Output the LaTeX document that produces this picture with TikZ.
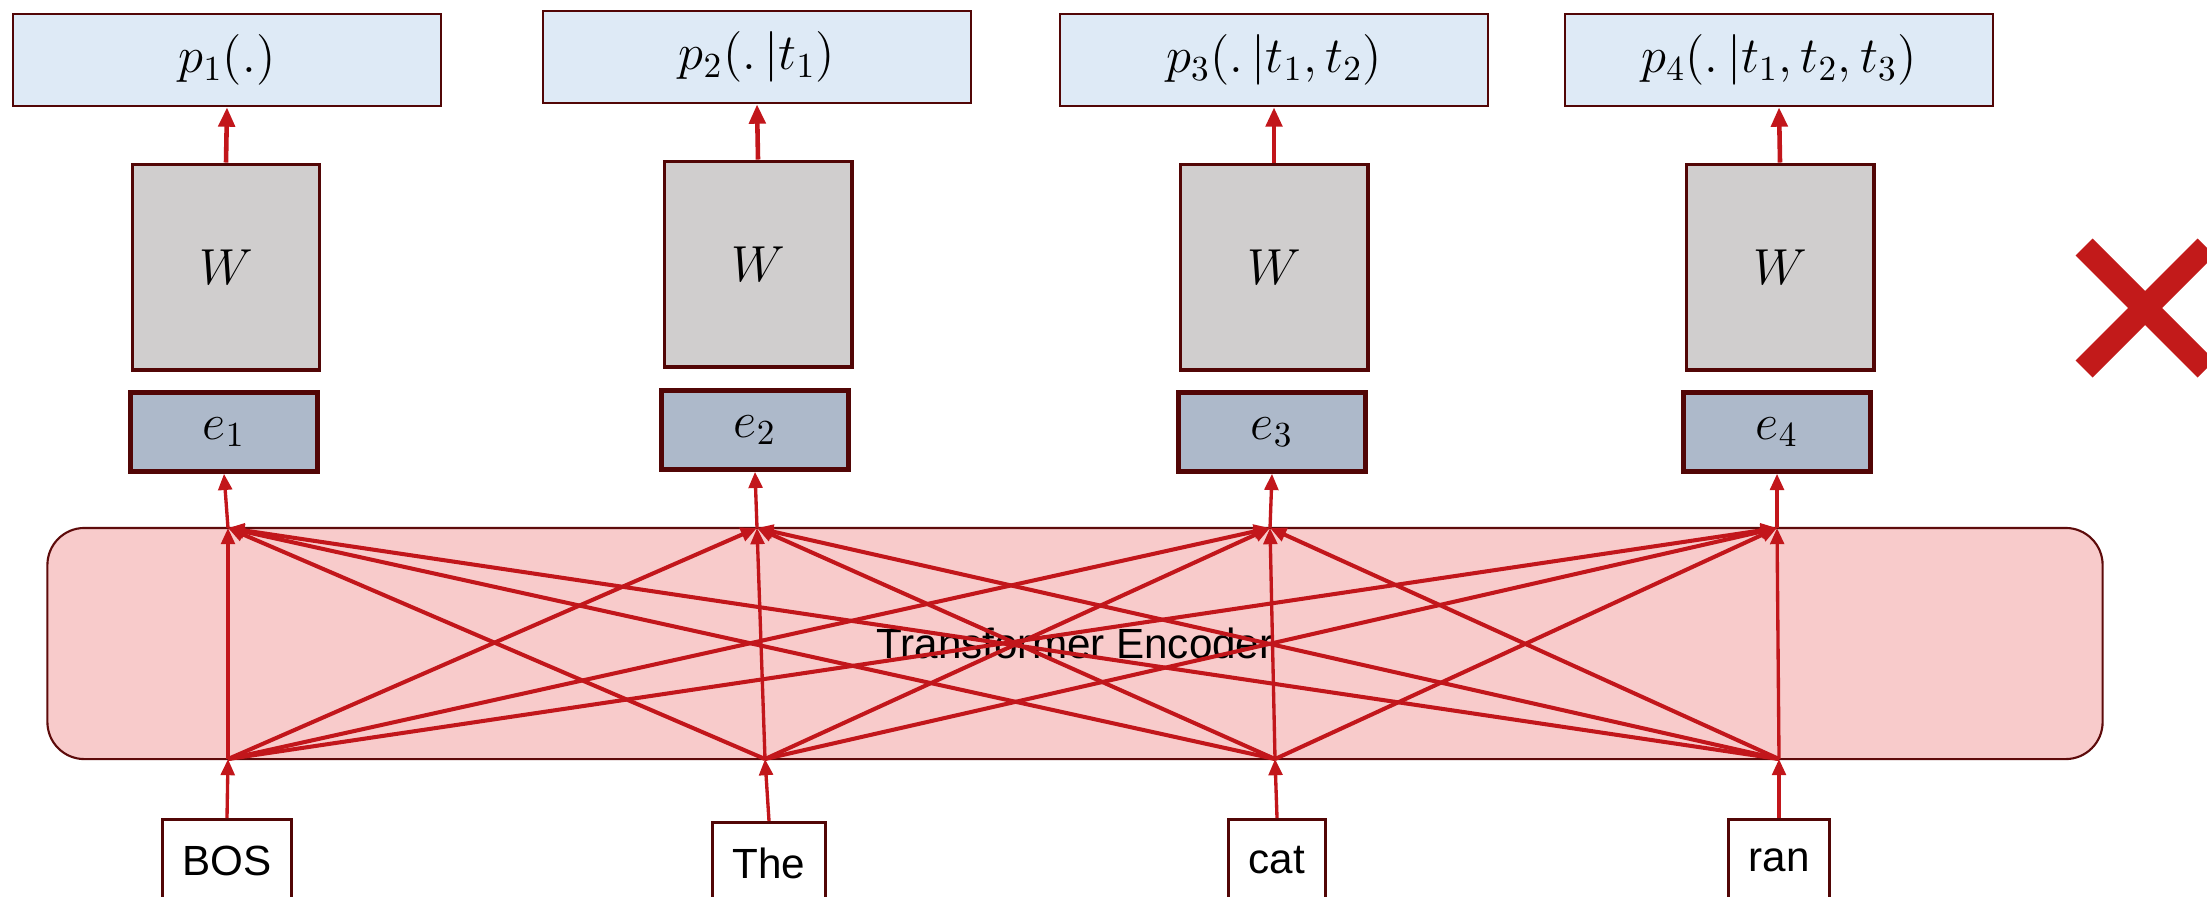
\documentclass[tikz,border=0pt]{standalone}
\usepackage[no-math]{fontspec}
\setmainfont{Liberation Sans}
\usetikzlibrary{arrows.meta}

\definecolor{boxline}{HTML}{520606}
\definecolor{encline}{HTML}{5E0B0B}
\definecolor{pfill}{HTML}{DEEAF6}
\definecolor{wfill}{HTML}{D0CECE}
\definecolor{efill}{HTML}{ADB9CA}
\definecolor{encfill}{HTML}{F8CBCB}
\definecolor{arrowred}{HTML}{C2161B}
\definecolor{xred}{HTML}{C21A1A}

\newcommand{\mathsize}{\Large}
\newcommand{\tokfont}{\fontsize{12}{14}\selectfont}

\tikzset{
  pbox/.style={draw=boxline, line width=0.75pt, fill=pfill, minimum width=4.28cm,
    minimum height=0.92cm, inner sep=0pt, font=\mathsize},
  wbox/.style={draw=boxline, line width=1.1pt, fill=wfill, minimum width=1.87cm,
    minimum height=2.05cm, inner sep=0pt, font=\mathsize},
  ebox/.style={draw=boxline, line width=1.3pt, fill=efill, minimum width=1.87cm,
    minimum height=0.79cm, inner sep=0pt, font=\mathsize},
  tokbox/.style={draw=boxline, line width=0.85pt, fill=white, minimum height=0.82cm,
    inner xsep=0.2cm, inner ysep=0pt, anchor=north, font=\tokfont},
  encoder/.style={draw=encline, line width=0.6pt, fill=encfill, rounded corners=0.37cm,
    minimum width=20.54cm, minimum height=2.31cm, inner sep=0pt, font=\tokfont},
  flow/.style={-{Triangle[length=5.5pt,width=4.6pt]}, line width=1.3pt, draw=arrowred},
  feed/.style={-{Triangle[length=4.6pt,width=3.9pt]}, line width=0.95pt, draw=arrowred},
  attn/.style={-{Triangle[length=4.6pt,width=3.9pt]}, line width=1.15pt, draw=arrowred},
  cross/.style={line width=0.24cm, draw=xred},
}

\begin{document}
\begin{tikzpicture}[x=0.01cm, y=-0.01cm]
  \useasboundingbox (0,0) rectangle (2207,896);

  % output distributions
  \node[pbox] (p1) at (227,60) {$p_1(.)$};
  \node[pbox] (p2) at (757,57) {$p_2(.\,|t_1)$};
  \node[pbox] (p3) at (1274,60) {$p_3(.\,|t_1,t_2)$};
  \node[pbox] (p4) at (1779,60) {$p_4(.\,|t_1,t_2,t_3)$};

  % shared output projection
  \node[wbox] (w1) at (226,267) {$W$};
  \node[wbox] (w2) at (758,264) {$W$};
  \node[wbox] (w3) at (1274,267) {$W$};
  \node[wbox] (w4) at (1780,267) {$W$};

  % contextual embeddings
  \node[ebox] (e1) at (224,432) {$e_1$};
  \node[ebox] (e2) at (755,430) {$e_2$};
  \node[ebox] (e3) at (1272,432) {$e_3$};
  \node[ebox] (e4) at (1777,432) {$e_4$};

  % encoder block
  \node[encoder] (enc) at (1075,643.5) {Transformer Encoder};

  % input tokens
  \node[tokbox] (tok1) at (227,818) {BOS};
  \node[tokbox] (tok2) at (769,821) {The};
  \node[tokbox] (tok3) at (1277,818) {cat};
  \node[tokbox] (tok4) at (1779,818) {ran};

  % attachment points on the encoder edges
  \coordinate (b1) at (228,759);
  \coordinate (b2) at (765,759);
  \coordinate (b3) at (1275,759);
  \coordinate (b4) at (1779,759);
  \coordinate (t1) at (228,528);
  \coordinate (t2) at (757,528);
  \coordinate (t3) at (1270,528);
  \coordinate (t4) at (1777,528);

  % tokens into the encoder
  \foreach \i in {1,...,4} {
    \draw[feed] (tok\i.north) -- (b\i);
  }

  % full (bidirectional) attention
  \foreach \i in {1,...,4} {
    \foreach \j in {1,...,4} {
      \ifnum\i=\j
        \draw[feed] (b\i) -- (t\j);
      \else
        \draw[attn] (b\i) -- (t\j);
      \fi
    }
  }

  % encoder outputs to embeddings, projection to distributions
  \foreach \i in {1,...,4} {
    \draw[feed] (t\i) -- (e\i.south);
    \draw[flow] (w\i.north) -- (p\i.south);
  }

  % cross mark
  \coordinate (xa) at (2084,247);
  \coordinate (xb) at (2206,369);
  \coordinate (xc) at (2084,369);
  \coordinate (xd) at (2206,247);
  \draw[cross] (xa) -- (xb);
  \draw[cross] (xc) -- (xd);
\end{tikzpicture}
\end{document}
